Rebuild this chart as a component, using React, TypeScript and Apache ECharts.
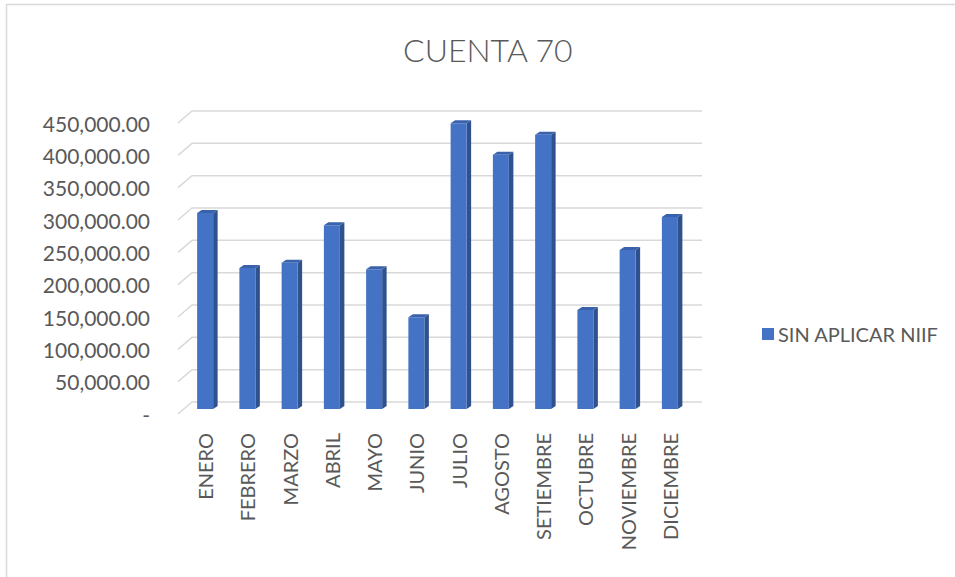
import React, { useEffect, useRef } from "react";
import * as echarts from "echarts";

const title = "CUENTA 70";
const seriesName = "SIN APLICAR NIIF";
const months = [
  "ENERO", "FEBRERO", "MARZO", "ABRIL", "MAYO", "JUNIO",
  "JULIO", "AGOSTO", "SETIEMBRE", "OCTUBRE", "NOVIEMBRE", "DICIEMBRE",
];
const values = [303000, 218000, 226000, 284000, 216000, 142000, 442000, 393000, 424000, 153000, 246000, 297000];
const yTicks = [0, 50000, 100000, 150000, 200000, 250000, 300000, 350000, 400000, 450000];

const FRONT = "#4472C4";
const SIDE = "#2F528F";
const TOP = "#3A62AB";
const GRID = "#d9d9d9";
const TEXT = "#595959";
const FONT = "Lato, 'Open Sans', sans-serif";

function fmt(v: number): string {
  if (v === 0) return "-";
  return v.toLocaleString("en-US", { minimumFractionDigits: 2, maximumFractionDigits: 2 });
}

export default function App() {
  const ref = useRef<HTMLDivElement>(null);
  useEffect(() => {
    if (!ref.current) return;
    const chart = echarts.init(ref.current, null, { renderer: "svg" });
    const yMax = yTicks[yTicks.length - 1];
    const dx = 4.5;
    const dy = -3;
    const option: any = {
      animation: false,
      backgroundColor: "#ffffff",
      title: {
        text: title,
        left: 398,
        top: 28,
        textStyle: { fontFamily: FONT, fontSize: 32, fontWeight: 300, color: TEXT },
      },
      legend: {
        data: [{ name: seriesName, icon: "rect" }],
        left: 757,
        top: 319,
        itemWidth: 12,
        itemHeight: 12,
        itemGap: 4,
        textStyle: { fontFamily: FONT, fontSize: 20, color: TEXT, padding: [0, 0, 0, -1] },
      },
      graphic: [
        {
          type: "rect",
          shape: { x: 6.5, y: 4.5, width: 1200, height: 1200 },
          style: { fill: "none", stroke: GRID, lineWidth: 1.5 },
          silent: true,
          z: -10,
        },
      ],
      grid: [
        { left: 192, top: 111, width: 510, height: 291 },
        { left: 184, top: 118, width: 507, height: 291 },
        { left: 184, top: 123, width: 507, height: 291 },
      ],
      xAxis: [
        { type: "category", gridIndex: 0, data: months, show: false },
        {
          type: "category",
          gridIndex: 1,
          data: months,
          axisLine: { show: false },
          axisTick: { show: false },
          axisLabel: {
            rotate: 90,
            margin: 24,
            interval: 0,
            fontFamily: FONT,
            fontSize: 20,
            color: TEXT,
          },
        },
        { type: "category", gridIndex: 2, data: months, show: false },
      ],
      yAxis: [
        { type: "value", gridIndex: 0, min: 0, max: yMax, interval: 50000, show: false },
        { type: "value", gridIndex: 1, min: 0, max: yMax, interval: 50000, show: false },
        {
          type: "value",
          gridIndex: 2,
          min: 0,
          max: yMax,
          interval: 50000,
          axisLine: { show: false },
          axisTick: { show: false },
          splitLine: { show: false },
          axisLabel: {
            margin: 34,
            fontFamily: FONT,
            fontSize: 21,
            color: TEXT,
            formatter: (v: number) => fmt(v),
          },
        },
      ],
      series: [
        {
          type: "custom",
          name: "grid-lines",
          xAxisIndex: 0,
          yAxisIndex: 0,
          silent: true,
          data: yTicks.map((t) => [0, t]),
          renderItem: (params: any, api: any) => {
            const p = api.coord([0, api.value(1)]);
            const cs = params.coordSys;
            const x0 = cs.x;
            const x1 = cs.x + cs.width;
            return {
              type: "polyline",
              shape: { points: [[x0 - 14, p[1] + 12], [x0, p[1]], [x1, p[1]]] },
              style: { stroke: GRID, lineWidth: 1.5, fill: "none" },
            };
          },
          z: 1,
        },
        {
          type: "custom",
          name: seriesName,
          xAxisIndex: 1,
          yAxisIndex: 1,
          itemStyle: { color: FRONT },
          data: values.map((v, i) => [i, v]),
          renderItem: (params: any, api: any) => {
            const top = api.coord([api.value(0), api.value(1)]);
            const base = api.coord([api.value(0), 0]);
            const x0 = top[0] - 8;
            const x1 = top[0] + 8;
            const yt = top[1];
            const yb = base[1];
            return {
              type: "group",
              children: [
                {
                  type: "polygon",
                  shape: { points: [[x1, yt], [x1 + dx, yt + dy], [x1 + dx, yb + dy], [x1, yb]] },
                  style: { fill: SIDE },
                },
                {
                  type: "polygon",
                  shape: { points: [[x0, yt], [x0 + dx, yt + dy], [x1 + dx, yt + dy], [x1, yt]] },
                  style: { fill: TOP },
                },
                {
                  type: "rect",
                  shape: { x: x0, y: yt, width: x1 - x0, height: yb - yt },
                  style: { fill: FRONT },
                },
              ],
            };
          },
          z: 2,
        },
      ],
    };
    chart.setOption(option);
    return () => chart.dispose();
  }, []);
  return (
    <div
      ref={ref}
      style={{ position: "fixed", left: 0, top: 0, width: 955, height: 577 }}
    />
  );
}
